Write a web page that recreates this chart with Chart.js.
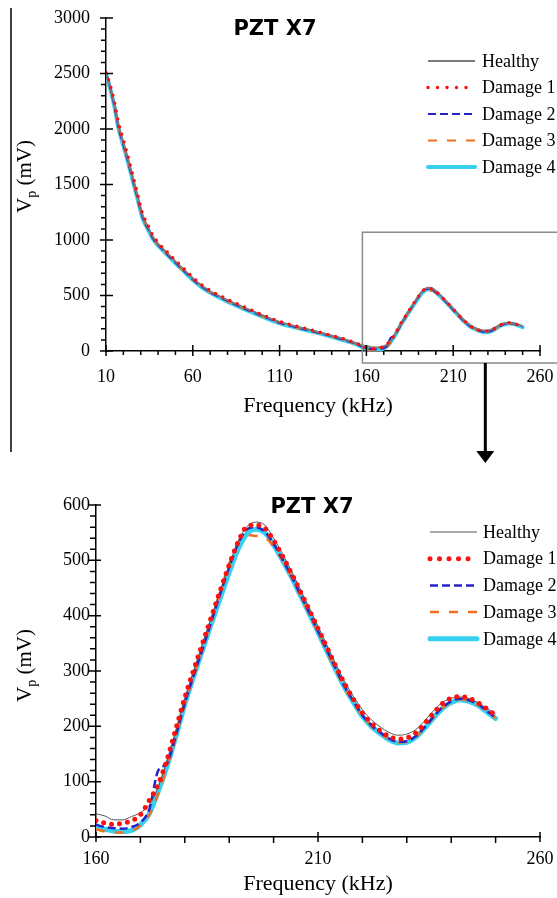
<!DOCTYPE html>
<html>
<head>
<meta charset="utf-8">
<script src="https://cdn.jsdelivr.net/npm/chart.js@4.4.1/dist/chart.umd.min.js"></script>
<style>
  html, body { margin: 0; padding: 0; background: #fff; }
  body { width: 557px; height: 898px; position: relative; overflow: hidden; }
  canvas { position: absolute; left: 0; }
  #overview { top: 0; }
  #detail { top: 470px; }
</style>
</head>
<body>
<canvas id="overview" width="557" height="470"></canvas>
<canvas id="detail" width="557" height="428"></canvas>
<script>
// Peak voltage vs excitation frequency, PZT X7
const freqKHz = [10, 12, 15, 17, 20, 22, 25, 28, 31, 34, 37, 40, 45, 50, 55, 60, 65, 70, 80, 90, 100, 110, 120, 130, 140, 150, 155,
  160, 162, 164, 166, 168, 170, 172, 174, 176, 178, 180, 182, 184, 186, 188, 190, 192, 194, 196, 198,
  200, 202, 204, 206, 208, 210, 212, 214, 216, 218, 220, 222, 224, 226, 228, 230, 232, 234, 236, 238,
  240, 242, 244, 246, 248, 250];

const healthy = [2508, 2405, 2210, 2045, 1875, 1765, 1585, 1402, 1222, 1120, 1028, 966, 886, 806, 731, 656, 590, 538, 458, 388, 322, 262, 219, 180, 138, 92, 64,
  42, 38, 31, 31, 37, 44, 58, 90, 137, 192, 250, 300, 350, 398, 446, 492, 534, 561, 569, 564,
  540, 512, 481, 448, 415, 381, 347, 313, 281, 254, 230, 212, 199, 189, 184, 186, 194, 210, 228, 243,
  251, 253, 250, 243, 233, 222];

const damage1 = [2510, 2418, 2232, 2070, 1902, 1790, 1610, 1425, 1240, 1138, 1042, 978, 896, 816, 740, 664, 598, 545, 465, 394, 327, 266, 222, 183, 140, 94, 66,
  30, 25, 23, 25, 29, 40, 66, 95, 140, 196, 252, 302, 350, 398, 446, 492, 533, 561, 564, 558,
  536, 508, 477, 444, 411, 377, 343, 309, 277, 249, 224, 206, 192, 182, 177, 179, 188, 205, 224, 241,
  251, 254, 251, 243, 232, 220];

const damage2 = [2502, 2396, 2196, 2027, 1857, 1747, 1567, 1387, 1207, 1107, 1016, 956, 876, 796, 721, 646, 581, 531, 451, 381, 316, 255, 212, 174, 132, 86, 58,
  22, 18, 16, 15, 18, 26, 50, 120, 133, 184, 242, 292, 340, 390, 440, 488, 530, 556, 560, 552,
  530, 502, 472, 439, 406, 372, 338, 304, 272, 245, 220, 202, 189, 178, 172, 173, 182, 198, 217, 234,
  245, 250, 247, 240, 228, 216];

const damage3 = [2500, 2392, 2192, 2022, 1852, 1742, 1562, 1382, 1202, 1102, 1012, 952, 872, 792, 717, 642, 577, 527, 447, 377, 312, 252, 210, 172, 130, 84, 56,
  14, 10, 8, 8, 11, 21, 40, 78, 126, 181, 240, 290, 340, 392, 444, 494, 532, 546, 544, 542,
  524, 500, 470, 437, 404, 370, 336, 302, 270, 243, 219, 201, 188, 177, 171, 172, 181, 197, 216, 233,
  244, 249, 246, 239, 227, 215];

const damage4 = [2500, 2390, 2190, 2020, 1850, 1740, 1560, 1380, 1200, 1100, 1010, 950, 870, 790, 715, 640, 575, 525, 445, 375, 310, 250, 208, 170, 128, 82, 55,
  18, 14, 11, 10, 12, 22, 42, 82, 128, 182, 240, 290, 338, 386, 432, 478, 520, 548, 556, 550,
  528, 500, 470, 437, 404, 370, 336, 302, 270, 243, 218, 200, 187, 176, 170, 171, 180, 196, 215, 232,
  243, 248, 245, 238, 226, 214];

const seriesNames = ['Healthy', 'Damage 1', 'Damage 2', 'Damage 3', 'Damage 4'];
const seriesValues = [healthy, damage1, damage2, damage3, damage4];

const overviewXTicks = [10, 60, 110, 160, 210, 260];
const overviewYTicks = [0, 500, 1000, 1500, 2000, 2500, 3000];
const detailXTicks = [160, 210, 260];
const detailYTicks = [0, 100, 200, 300, 400, 500, 600];

// lower "order" is painted last, so the red dots sit on top and cyan underneath
const overviewStyles = [
  { color: '#7a7a7a', width: 2, dash: [], cap: 'butt', order: 2 },
  { color: '#ff1010', width: 3.5, dash: [0, 8], legendDash: [0, 9.5], cap: 'round', order: 1 },
  { color: '#2424c8', width: 2, dash: [8, 4], cap: 'butt', order: 3 },
  { color: '#f07020', width: 2, dash: [9, 10], cap: 'butt', order: 4 },
  { color: '#38d0ef', width: 4, dash: [], cap: 'round', order: 5 }
];
const detailStyles = [
  { color: '#555555', width: 1, dash: [], cap: 'butt', order: 2 },
  { color: '#ff1010', width: 5, dash: [0, 8], legendDash: [0, 9.5], cap: 'round', order: 1 },
  { color: '#2424c8', width: 2.5, dash: [8, 4], cap: 'butt', order: 3 },
  { color: '#f07020', width: 2.5, dash: [9, 10], cap: 'butt', order: 4 },
  { color: '#38d0ef', width: 5, dash: [], cap: 'round', order: 5 }
];

const serif = '"Liberation Serif", "Times New Roman", serif';

function makeDecor(cfg) {
  return {
    id: 'decor',
    afterDraw(chart) {
      const { ctx, chartArea: a, scales: { x, y } } = chart;
      ctx.save();
      ctx.strokeStyle = '#000';
      ctx.lineWidth = 1.5;
      ctx.setLineDash([]);
      const t = cfg.tickLen;

      // x axis ticks: majors cross the axis, minors point outward
      ctx.beginPath();
      for (let v = x.min; v <= x.max + 1e-6; v += cfg.xMinor) {
        const px = x.getPixelForValue(v);
        if (cfg.xTicks.includes(v)) {
          ctx.moveTo(px, a.bottom - t.xIn);
          ctx.lineTo(px, a.bottom + t.xOut);
        } else {
          ctx.moveTo(px, a.bottom);
          ctx.lineTo(px, a.bottom + t.xMinor);
        }
      }
      for (let v = y.min; v <= y.max + 1e-6; v += cfg.yMinor) {
        const py = y.getPixelForValue(v);
        if (cfg.yTicks.includes(v)) {
          ctx.moveTo(a.left - t.yOut, py);
          ctx.lineTo(a.left + t.yIn, py);
        } else {
          ctx.moveTo(a.left - t.yMinor, py);
          ctx.lineTo(a.left, py);
        }
      }
      ctx.stroke();

      // chart title
      ctx.fillStyle = '#000';
      ctx.font = 'bold 21px "DejaVu Sans", sans-serif';
      ctx.textAlign = 'center';
      ctx.textBaseline = 'alphabetic';
      ctx.fillText('PZT X7', cfg.title.x, cfg.title.y);

      // x axis title
      ctx.font = '22px ' + serif;
      ctx.textBaseline = 'middle';
      ctx.fillText('Frequency (kHz)', cfg.xTitle.x, cfg.xTitle.y);

      // y axis title with subscript p
      ctx.save();
      ctx.translate(cfg.yTitle.x, cfg.yTitle.y);
      ctx.rotate(-Math.PI / 2);
      ctx.textAlign = 'left';
      ctx.textBaseline = 'alphabetic';
      ctx.font = '21px ' + serif;
      ctx.fillText('V', 0, 0);
      let off = ctx.measureText('V').width;
      ctx.font = '14px ' + serif;
      ctx.fillText('p', off, 5);
      off += ctx.measureText('p').width;
      ctx.font = '21px ' + serif;
      ctx.fillText(' (mV)', off, 0);
      ctx.restore();

      // legend
      const lg = cfg.legend;
      ctx.font = '18px ' + serif;
      ctx.textAlign = 'left';
      ctx.textBaseline = 'middle';
      seriesNames.forEach((name, i) => {
        const s = cfg.styles[i];
        const ly = lg.y + i * lg.step;
        ctx.save();
        ctx.strokeStyle = s.color;
        ctx.lineWidth = s.width;
        ctx.lineCap = s.cap;
        ctx.setLineDash(s.legendDash || s.dash);
        ctx.beginPath();
        ctx.moveTo(lg.x, ly);
        ctx.lineTo(lg.x + lg.len, ly);
        ctx.stroke();
        ctx.restore();
        ctx.fillStyle = '#000';
        ctx.fillText(name, lg.textX, ly + 1);
      });

      if (cfg.zoomBox) {
        const z = cfg.zoomBox;
        const left = x.getPixelForValue(z.from) - 4;
        const top = y.getPixelForValue(z.upTo);
        const bottom = a.bottom + 12;
        ctx.strokeStyle = '#8a8a8a';
        ctx.lineWidth = 1.5;
        ctx.strokeRect(left, top, chart.width + 4 - left, bottom - top);

        // arrow down to the detail plot
        const ax = x.getPixelForValue(z.arrowAt);
        ctx.strokeStyle = '#000';
        ctx.lineWidth = 3;
        ctx.beginPath();
        ctx.moveTo(ax, bottom);
        ctx.lineTo(ax, z.arrowTip - 10);
        ctx.stroke();
        ctx.fillStyle = '#000';
        ctx.beginPath();
        ctx.moveTo(ax - 9, z.arrowTip - 12);
        ctx.lineTo(ax + 9, z.arrowTip - 12);
        ctx.lineTo(ax, z.arrowTip);
        ctx.closePath();
        ctx.fill();

        // frame rule on the left of the overview panel
        ctx.lineWidth = 1.5;
        ctx.beginPath();
        ctx.moveTo(11, 8);
        ctx.lineTo(11, 452);
        ctx.stroke();
      }
      ctx.restore();
    }
  };
}

// fixed axis box sizes, no automatic label overhang padding
function fixBox(size, key) {
  return s => {
    s[key] = size;
    s.paddingLeft = s.paddingRight = s.paddingTop = s.paddingBottom = 0;
  };
}

function buildChart(id, cfg) {
  const datasets = seriesValues.map((vals, i) => {
    const s = cfg.styles[i];
    return {
      label: seriesNames[i],
      data: freqKHz.map((f, j) => ({ x: f, y: vals[j] })).filter(p => p.x >= cfg.xMin),
      borderColor: s.color,
      borderWidth: s.width,
      borderDash: s.dash,
      borderCapStyle: s.cap,
      borderJoinStyle: 'round',
      pointRadius: 0,
      fill: false,
      cubicInterpolationMode: 'monotone',
      order: s.order
    };
  });

  return new Chart(document.getElementById(id), {
    type: 'line',
    data: { datasets },
    options: {
      responsive: false,
      animation: false,
      devicePixelRatio: 1,
      layout: { padding: cfg.padding },
      plugins: { legend: { display: false }, tooltip: { enabled: false } },
      scales: {
        x: {
          type: 'linear',
          min: cfg.xMin,
          max: cfg.xMax,
          afterFit: fixBox(cfg.xAxisHeight, 'height'),
          afterBuildTicks: s => { s.ticks = cfg.xTicks.map(v => ({ value: v })); },
          grid: { display: false, drawTicks: false },
          border: { display: true, color: '#000', width: 1.5 },
          ticks: { padding: cfg.xPad, color: '#000', font: { family: serif, size: 18 }, maxRotation: 0, autoSkip: false, callback: v => String(v) }
        },
        y: {
          type: 'linear',
          min: cfg.yMin,
          max: cfg.yMax,
          afterFit: fixBox(cfg.yAxisWidth, 'width'),
          afterBuildTicks: s => { s.ticks = cfg.yTicks.map(v => ({ value: v })); },
          grid: { display: false, drawTicks: false },
          border: { display: true, color: '#000', width: 1.5 },
          ticks: { padding: cfg.yPad, color: '#000', font: { family: serif, size: 18 }, callback: v => String(v) }
        }
      }
    },
    plugins: [makeDecor(cfg)]
  });
}

buildChart('overview', {
  xMin: 10, xMax: 260, yMin: 0, yMax: 3000,
  xTicks: overviewXTicks, yTicks: overviewYTicks, xMinor: 10, yMinor: 100,
  padding: { left: 36, right: 17, top: 18, bottom: 79 },
  xAxisHeight: 40, yAxisWidth: 70, xPad: 15, yPad: 16,
  tickLen: { xIn: 6, xOut: 5, xMinor: 4, yIn: 7, yOut: 6, yMinor: 5 },
  styles: overviewStyles,
  title: { x: 275, y: 35 },
  xTitle: { x: 318, y: 406 },
  yTitle: { x: 31, y: 213 },
  legend: { x: 428, len: 47, textX: 482, y: 61, step: 26.5 },
  zoomBox: { from: 160, upTo: 1070, arrowAt: 228.5, arrowTip: 463 }
});

buildChart('detail', {
  xMin: 160, xMax: 260, yMin: 0, yMax: 600,
  xTicks: detailXTicks, yTicks: detailYTicks, xMinor: 10, yMinor: 20,
  padding: { left: 30, right: 17, top: 35, bottom: 31 },
  xAxisHeight: 30, yAxisWidth: 66, xPad: 11, yPad: 6,
  tickLen: { xIn: 5, xOut: 5, xMinor: 6, yIn: 5, yOut: 7, yMinor: 6 },
  styles: detailStyles,
  title: { x: 312, y: 43 },
  xTitle: { x: 318, y: 414 },
  yTitle: { x: 31, y: 232 },
  legend: { x: 430, len: 47, textX: 483, y: 62, step: 26.7 }
});
</script>
</body>
</html>
